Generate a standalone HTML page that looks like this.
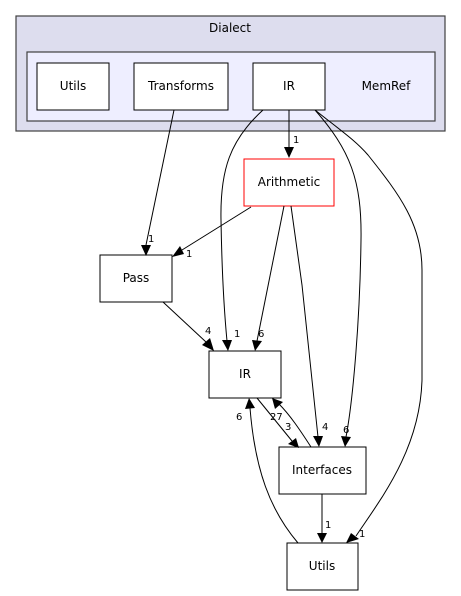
<html><body style="margin:0;background:#fff">
<svg width="461" height="596" xmlns="http://www.w3.org/2000/svg" font-family="DejaVu Sans, Liberation Sans, sans-serif" font-size="11">
<rect x="16" y="16" width="429" height="115" fill="#ddddee" stroke="#404040" stroke-width="1.2"/>
<text x="230" y="32" text-anchor="middle" font-size="12">Dialect</text>
<rect x="27" y="52" width="408" height="69" fill="#eeeeff" stroke="#404040" stroke-width="1.2"/>
<text x="386" y="90" text-anchor="middle" font-size="12">MemRef</text>
<g fill="#fff" stroke="#000">
<rect x="37" y="63" width="72" height="47"/>
<rect x="134" y="63" width="94" height="47"/>
<rect x="253" y="63" width="72" height="47"/>
<rect x="244" y="159" width="90" height="47" stroke="#f00"/>
<rect x="100" y="255" width="72" height="47"/>
<rect x="209" y="351" width="72" height="47"/>
<rect x="279" y="447" width="87" height="47"/>
<rect x="287" y="543" width="71" height="47"/>
</g>
<g text-anchor="middle" font-size="12">
<text x="73" y="90">Utils</text><text x="181" y="90">Transforms</text><text x="289" y="90">IR</text>
<text x="289" y="186">Arithmetic</text><text x="136" y="282">Pass</text><text x="245" y="378">IR</text>
<text x="322" y="474">Interfaces</text><text x="322" y="570">Utils</text>
</g>
<g fill="none" stroke="#000">
<path d="M174,110 L146,245"/>
<path d="M251,207 L182,250"/>
<path d="M289,110 L289,148"/>
<path d="M263,110 C230,140 220,170 221,220 C222,280 225,320 227,341"/>
<path d="M284,206 L257,341"/>
<path d="M315,110 C350,150 362,180 361,240 C360,320 353,400 346,437"/>
<path d="M315,110 C340,130 355,140 368,155 C400,195 422,225 422,270 L422,380 C420,450 380,500 356,536"/>
<path d="M291,206 L302,285 L318,437"/>
<path d="M163,302 L206,342"/>
<path d="M257,398 L292,441"/>
<path d="M311,447 C300,430 290,415 279,404"/>
<path d="M322,494 L322,533"/>
<path d="M298,543 C270,510 255,470 250,408"/>
</g>
<g fill="#000">
<polygon points="141,245 151,245 146,256"/>
<polygon points="180,246 184,254 172,257"/>
<polygon points="284,147 294,147 289,158"/>
<polygon points="222,340 232,340 228,351"/>
<polygon points="252,340 262,341 255,351"/>
<polygon points="341,436 351,437 345,447"/>
<polygon points="351,533 359,539 346,543"/>
<polygon points="313,436 323,436 319,447"/>
<polygon points="202,345 210,338 214,351"/>
<polygon points="288,444 296,438 299,448"/>
<polygon points="275,409 283,402 272,398"/>
<polygon points="317,533 327,533 322,543"/>
<polygon points="245,409 255,408 249,398"/>
</g>
<g font-size="10">
<text x="148" y="242">1</text><text x="186" y="257">1</text><text x="293" y="143">1</text>
<text x="234" y="337">1</text><text x="258" y="337">6</text><text x="343" y="433">6</text>
<text x="359" y="537">1</text><text x="322" y="430">4</text><text x="205" y="334">4</text>
<text x="270" y="420">27</text><text x="285" y="430">3</text><text x="325" y="528">1</text>
<text x="236" y="420">6</text>
</g>
</svg>
</body></html>
